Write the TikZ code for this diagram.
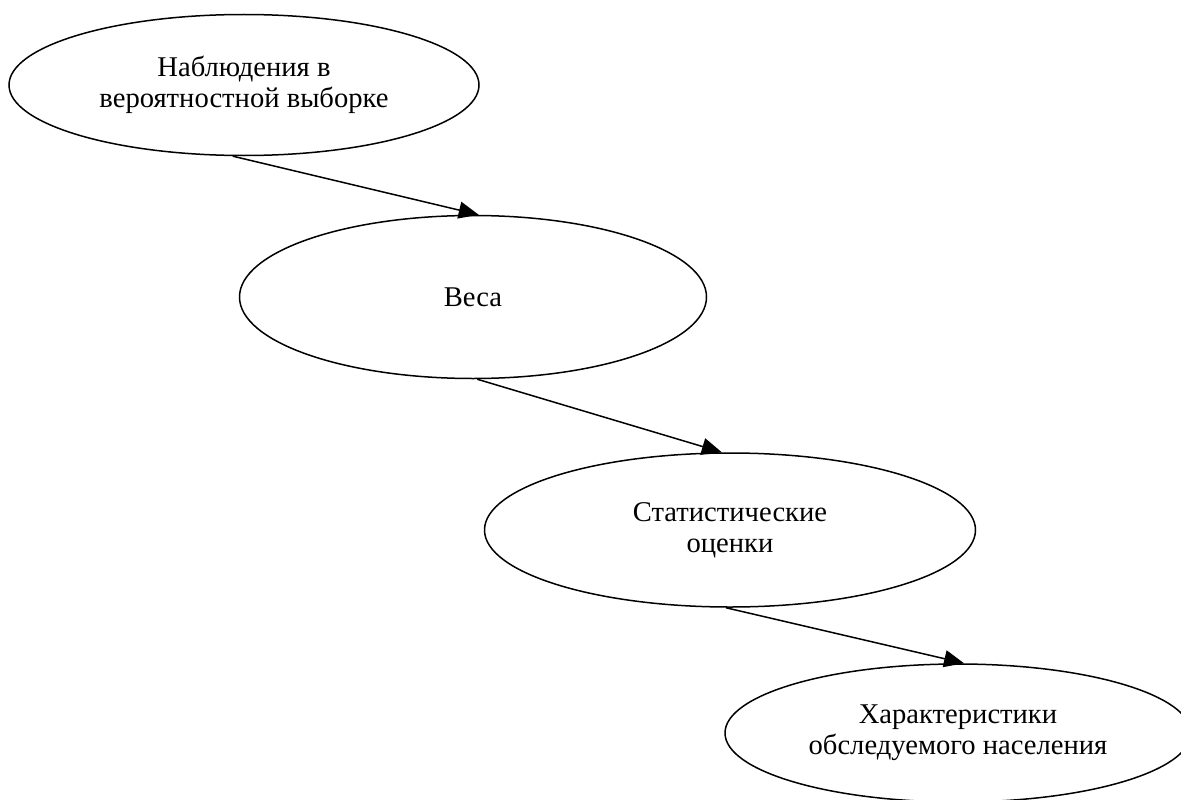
\documentclass[tikz,border=0pt]{standalone}
\usepackage{fontspec}
\setmainfont{Liberation Serif}
\usetikzlibrary{shapes.geometric,arrows.meta}
\begin{document}
\begin{tikzpicture}[x=1pt,y=-1pt,
  state/.style={ellipse,draw=black,line width=1.5pt,inner sep=0pt,align=center,
    font=\fontsize{28.6}{31}\selectfont},
  flow/.style={line width=1.5pt,-{Triangle[length=20pt,width=17pt]}}]
\useasboundingbox (0,0) rectangle (1181,800);
\clip (0,0) rectangle (1181,800);
% process stages
\node[state,minimum width=470pt,minimum height=141pt] (obs) at (244,85)
  {Наблюдения в\\вероятностной выборке};
\node[state,minimum width=467pt,minimum height=163pt] (wts) at (473,297)
  {Веса};
\node[state,minimum width=491pt,minimum height=154pt] (est) at (730,530)
  {Статистические\\оценки};
\node[state,minimum width=466pt,minimum height=138pt] (pop) at (958,733)
  {Характеристики\\обследуемого населения};
% flow between stages
\draw[flow] (obs.261) -- (wts.86);
\draw[flow] (wts.273.5) -- (est.96);
\draw[flow] (est.267) -- (pop.85);
\end{tikzpicture}
\end{document}
